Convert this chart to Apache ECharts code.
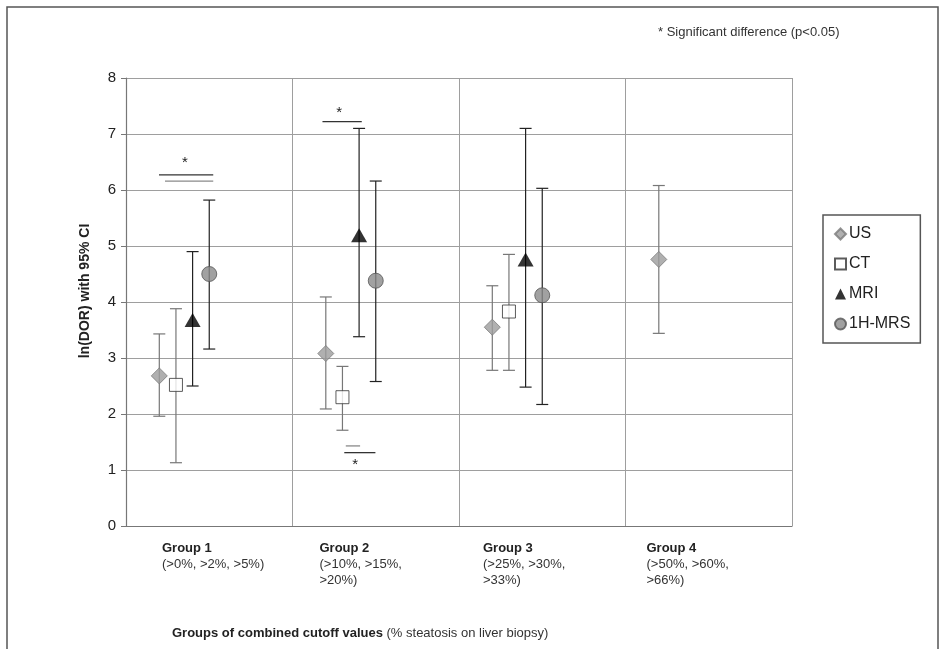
<!DOCTYPE html>
<html>
<head>
<meta charset="utf-8">
<script src="https://cdn.jsdelivr.net/npm/echarts@6/dist/echarts.min.js"></script>
<style>
html, body { margin: 0; padding: 0; background: #fff; }
#main { width: 946px; height: 649px; }
</style>
</head>
<body>
<div id="main"></div>
<script>
// groups on the x axis
var groups = ['Group 1', 'Group 2', 'Group 3', 'Group 4'];
var groupRanges = ['(>0%, >2%, >5%)', '(>10%, >15%,\n>20%)', '(>25%, >30%,\n>33%)', '(>50%, >60%,\n>66%)'];
var yTicks = [0, 1, 2, 3, 4, 5, 6, 7, 8];

// ln(DOR) point estimates and 95% CI per method
var usMean = [2.68, 3.08, 3.55, 4.76];
var usLow = [1.96, 2.09, 2.78, 3.44];
var usHigh = [3.43, 4.09, 4.29, 6.08];

var ctMean = [2.52, 2.30, 3.83, null];
var ctLow = [1.13, 1.71, 2.78, null];
var ctHigh = [3.88, 2.85, 4.85, null];

var mriMean = [3.68, 5.19, 4.76, null];
var mriLow = [2.50, 3.38, 2.48, null];
var mriHigh = [4.90, 7.10, 7.10, null];

var mrsMean = [4.50, 4.38, 4.12, null];
var mrsLow = [3.16, 2.58, 2.17, null];
var mrsHigh = [5.82, 6.16, 6.03, null];

// significance brackets: [from x, to x, y, shade] and star positions [x, y]
var sigLines = [[0.198, 0.524, 6.27, 0], [0.234, 0.524, 6.16, 1], [1.18, 1.416, 7.22, 0], [1.32, 1.406, 1.43, 1], [1.311, 1.498, 1.31, 0]];
var sigStars = [[0.354, 6.55], [1.281, 7.45], [1.376, 1.16]];

var FONT = '"Liberation Sans", Arial, sans-serif';
var labelPad = [36, 27, 24, 21];

var methods = [
    { name: 'US', mean: usMean, low: usLow, high: usHigh, shift: 0.2, barColor: '#777',
      symbol: 'diamond', size: 16, item: { color: '#9c9c9c', borderColor: '#7a7a7a', borderWidth: 1 } },
    { name: 'CT', mean: ctMean, low: ctLow, high: ctHigh, shift: 0.3, barColor: '#777',
      symbol: 'rect', size: 13, item: { color: '#fff', borderColor: '#333', borderWidth: 1 } },
    { name: 'MRI', mean: mriMean, low: mriLow, high: mriHigh, shift: 0.4, barColor: '#222',
      symbol: 'triangle', size: [16, 14], item: { color: '#000', borderColor: '#000', borderWidth: 0 } },
    { name: '1H-MRS', mean: mrsMean, low: mrsLow, high: mrsHigh, shift: 0.5, barColor: '#222',
      symbol: 'circle', size: 15, item: { color: '#8a8a8a', borderColor: '#555', borderWidth: 1 } }
];

function errorBar(color) {
    return function (params, api) {
        var x = api.value(0);
        var pLo = api.coord([x, api.value(1)]);
        var pHi = api.coord([x, api.value(2)]);
        var w = 6;
        var st = { stroke: color, lineWidth: 1.2 };
        return {
            type: 'group',
            children: [
                { type: 'line', shape: { x1: pLo[0], y1: pLo[1], x2: pHi[0], y2: pHi[1] }, style: st },
                { type: 'line', shape: { x1: pLo[0] - w, y1: pLo[1], x2: pLo[0] + w, y2: pLo[1] }, style: st },
                { type: 'line', shape: { x1: pHi[0] - w, y1: pHi[1], x2: pHi[0] + w, y2: pHi[1] }, style: st }
            ]
        };
    };
}

var series = [];
var richStyles = {};
for (var i = 0; i < groups.length; i++) {
    richStyles['h' + i] = { fontFamily: FONT, fontSize: 13, fontWeight: 'bold', color: '#222', lineHeight: 16, padding: [0, 0, 0, labelPad[i]] };
    richStyles['s' + i] = { fontFamily: FONT, fontSize: 13, color: '#333', lineHeight: 16, padding: [0, 0, 0, labelPad[i]] };
}

methods.forEach(function (m) {
    var bars = [];
    var pts = [];
    for (var g = 0; g < groups.length; g++) {
        if (m.mean[g] == null) continue;
        bars.push([g + m.shift, m.low[g], m.high[g]]);
        pts.push([g + m.shift, m.mean[g]]);
    }
    series.push({
        name: m.name + ' CI',
        type: 'custom',
        renderItem: errorBar(m.barColor),
        data: bars,
        z: 2,
        silent: true
    });
    series.push({
        name: m.name,
        type: 'scatter',
        symbol: m.symbol,
        symbolSize: m.size,
        itemStyle: m.item,
        data: pts,
        z: 5
    });
});

// significance lines
series.push({
    name: 'sig',
    type: 'custom',
    silent: true,
    z: 3,
    data: sigLines,
    renderItem: function (params, api) {
        var a = api.coord([api.value(0), api.value(2)]);
        var b = api.coord([api.value(1), api.value(2)]);
        return {
            type: 'line',
            shape: { x1: a[0], y1: a[1], x2: b[0], y2: b[1] },
            style: { stroke: api.value(3) ? '#8a8a8a' : '#333', lineWidth: 1.3 }
        };
    }
});
series.push({
    name: 'stars',
    type: 'custom',
    silent: true,
    z: 3,
    data: sigStars,
    renderItem: function (params, api) {
        var p = api.coord([api.value(0), api.value(1)]);
        return {
            type: 'text',
            x: p[0],
            y: p[1] + 4,
            style: { text: '*', fontFamily: FONT, fontSize: 15, fill: '#222', align: 'center', verticalAlign: 'middle' }
        };
    }
});

var myChart = echarts.init(document.getElementById('main'));
myChart.setOption({
    backgroundColor: '#fff',
    animation: false,
    grid: { left: 126, right: 154, top: 78, bottom: 123 },
    legend: {
        data: ['US', 'CT', 'MRI', '1H-MRS'],
        orient: 'vertical',
        left: 823,
        top: 215,
        itemWidth: 11,
        itemHeight: 11,
        itemGap: 14,
        padding: [11, 10, 11, 11],
        borderColor: '#555',
        borderWidth: 1.5,
        backgroundColor: '#fff',
        textStyle: { fontFamily: FONT, fontSize: 16, color: '#222', padding: [0, 0, 0, -2] }
    },
    xAxis: {
        type: 'value',
        min: 0,
        max: groups.length,
        interval: 1,
        axisLine: { show: true, lineStyle: { color: '#777', width: 1.2 } },
        axisTick: { show: false },
        splitLine: { show: true, lineStyle: { color: '#9e9e9e', width: 1 } },
        axisLabel: {
            align: 'left',
            verticalAlign: 'top',
            margin: 14,
            showMaxLabel: true,
            formatter: function (v) {
                var i = Math.round(v);
                if (i >= groups.length) return '';
                var lines = groupRanges[i].split('\n').map(function (s) {
                    return '{s' + i + '|' + s + '}';
                });
                return '{h' + i + '|' + groups[i] + '}\n' + lines.join('\n');
            },
            rich: richStyles
        }
    },
    yAxis: {
        type: 'value',
        min: yTicks[0],
        max: yTicks[yTicks.length - 1],
        interval: 1,
        axisLine: { show: true, lineStyle: { color: '#777', width: 1.2 } },
        axisTick: { show: true, length: 5, lineStyle: { color: '#777' } },
        splitLine: { show: true, lineStyle: { color: '#9e9e9e', width: 1 } },
        axisLabel: { margin: 10, fontFamily: FONT, fontSize: 15, color: '#222' }
    },
    graphic: [
        {
            type: 'rect',
            shape: { x: 7, y: 7, width: 931, height: 660 },
            style: { fill: 'none', stroke: '#555', lineWidth: 1.5 },
            silent: true
        },
        {
            type: 'text',
            x: 85,
            y: 291,
            rotation: Math.PI / 2,
            style: { text: 'ln(DOR) with 95% CI', fontFamily: FONT, fontSize: 14, fontWeight: 'bold', fill: '#222', align: 'center', verticalAlign: 'middle' }
        },
        {
            type: 'text',
            x: 658,
            y: 32,
            style: { text: '* Significant difference (p<0.05)', fontFamily: FONT, fontSize: 13, fill: '#333', verticalAlign: 'middle' }
        },
        {
            type: 'text',
            x: 172,
            y: 633,
            style: {
                text: '{b|Groups of combined cutoff values}{n| (% steatosis on liver biopsy)}',
                verticalAlign: 'middle',
                rich: {
                    b: { fontFamily: FONT, fontSize: 13, fontWeight: 'bold', fill: '#222' },
                    n: { fontFamily: FONT, fontSize: 13, fill: '#333' }
                }
            }
        }
    ],
    series: series
});
</script>
</body>
</html>
